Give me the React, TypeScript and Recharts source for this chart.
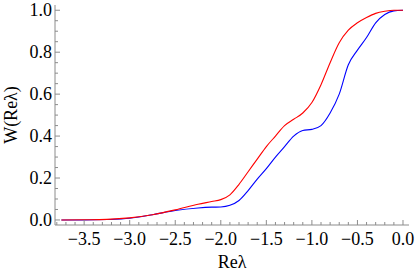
import { LineChart, Line, XAxis, YAxis } from 'recharts'

// Re(lambda) sample points and the two cumulative curves W(Re lambda)
const reLambda = [
  -3.75, -3.5, -3.25, -3.0, -2.75, -2.5, -2.25, -2.1, -2.0, -1.9, -1.8, -1.7, -1.6, -1.5,
  -1.4, -1.3, -1.2, -1.1, -1.0, -0.9, -0.8, -0.7, -0.6, -0.5, -0.4, -0.3, -0.2, -0.1, 0.0,
]
const redW = [
  0.0, 0.001, 0.003, 0.01, 0.025, 0.048, 0.075, 0.088, 0.097, 0.12, 0.17, 0.23, 0.29, 0.35,
  0.4, 0.45, 0.48, 0.51, 0.56, 0.645, 0.75, 0.845, 0.905, 0.94, 0.965, 0.985, 0.995, 1.0, 1.0,
]
const blueW = [
  0.0, 0.0, 0.002, 0.008, 0.025, 0.045, 0.057, 0.061, 0.062, 0.07, 0.093, 0.14, 0.195, 0.245,
  0.3, 0.35, 0.4, 0.427, 0.432, 0.45, 0.51, 0.6, 0.74, 0.81, 0.87, 0.94, 0.98, 0.997, 1.0,
]

const xTicks = [
  -3.8, -3.7, -3.6, -3.5, -3.4, -3.3, -3.2, -3.1, -3.0, -2.9, -2.8, -2.7, -2.6, -2.5, -2.4,
  -2.3, -2.2, -2.1, -2.0, -1.9, -1.8, -1.7, -1.6, -1.5, -1.4, -1.3, -1.2, -1.1, -1.0, -0.9,
  -0.8, -0.7, -0.6, -0.5, -0.4, -0.3, -0.2, -0.1, 0.0,
]
const yTicks = [
  0, 0.05, 0.1, 0.15, 0.2, 0.25, 0.3, 0.35, 0.4, 0.45, 0.5, 0.55, 0.6, 0.65, 0.7, 0.75, 0.8,
  0.85, 0.9, 0.95, 1.0,
]

const data = reLambda.map((x, i) => ({ x, red: redW[i], blue: blueW[i] }))

const FRAME = '#8c8c8c'
const FONT = '"Times New Roman", Times, "Liberation Serif", "DejaVu Serif", serif'
const FS = 18

const isMult = (v: number, step: number) => Math.abs(v / step - Math.round(v / step)) < 1e-6
const fmt = (v: number) => (Math.abs(v) < 1e-9 ? '0.0' : v.toFixed(1).replace('-', '\u2212'))

function BottomTick({ x, y, payload }: any) {
  const major = isMult(payload.value, 0.5)
  return (
    <g>
      <line x1={x} x2={x} y1={y} y2={y - (major ? 5 : 3)} stroke={FRAME} />
      {major && (
        <text x={x} y={y + 20} textAnchor="middle" fontFamily={FONT} fontSize={FS} fill="#000">
          {fmt(payload.value)}
        </text>
      )}
    </g>
  )
}

function TopTick({ x, y, payload }: any) {
  const major = isMult(payload.value, 0.5)
  return <line x1={x} x2={x} y1={y} y2={y + (major ? 5 : 3)} stroke={FRAME} />
}

function LeftTick({ x, y, payload }: any) {
  const major = isMult(payload.value, 0.2)
  return (
    <g>
      <line x1={x} x2={x + (major ? 5 : 3)} y1={y} y2={y} stroke={FRAME} />
      {major && (
        <text x={x - 3} y={y + 6} textAnchor="end" fontFamily={FONT} fontSize={FS} fill="#000">
          {payload.value.toFixed(1)}
        </text>
      )}
    </g>
  )
}

function RightTick({ x, y, payload }: any) {
  const major = isMult(payload.value, 0.2)
  return <line x1={x} x2={x - (major ? 5 : 3)} y1={y} y2={y} stroke={FRAME} />
}

export default function App() {
  return (
    <div style={{ position: 'absolute', left: 0, top: 0, fontFamily: FONT }}>
      <LineChart width={415} height={277} data={data} margin={{ top: 5, right: 6, bottom: 0, left: 0 }}>
        <XAxis
          xAxisId="b"
          dataKey="x"
          type="number"
          domain={[-3.82, 0.066]}
          allowDataOverflow
          ticks={xTicks}
          interval={0}
          height={52}
          tickSize={0}
          tickMargin={0}
          tickLine={false}
          axisLine={{ stroke: FRAME }}
          tick={<BottomTick />}
          label={{
            content: () => (
              <text x={232} y={268} textAnchor="middle" fontFamily={FONT} fontSize={FS} fill="#000">
                Re{'\u03bb'}
              </text>
            ),
          }}
        />
        <XAxis
          xAxisId="t"
          orientation="top"
          type="number"
          domain={[-3.82, 0.066]}
          allowDataOverflow
          ticks={xTicks}
          interval={0}
          height={0}
          tickSize={0}
          tickMargin={0}
          tickLine={false}
          axisLine={{ stroke: FRAME }}
          tick={<TopTick />}
        />
        <YAxis
          yAxisId="l"
          type="number"
          domain={[-0.024, 1.025]}
          allowDataOverflow
          ticks={yTicks}
          interval={0}
          width={55}
          tickSize={0}
          tickMargin={0}
          tickLine={false}
          axisLine={{ stroke: FRAME }}
          tick={<LeftTick />}
          label={{
            content: () => (
              <text
                x={17}
                y={115}
                transform="rotate(-90, 17, 115)"
                textAnchor="middle"
                fontFamily={FONT}
                fontSize={FS}
                fill="#000"
              >
                W(Re{'\u03bb'})
              </text>
            ),
          }}
        />
        <YAxis
          yAxisId="r"
          orientation="right"
          type="number"
          domain={[-0.024, 1.025]}
          allowDataOverflow
          ticks={yTicks}
          interval={0}
          width={0}
          tickSize={0}
          tickMargin={0}
          tickLine={false}
          axisLine={{ stroke: FRAME }}
          tick={<RightTick />}
        />
        <Line xAxisId="b" yAxisId="l" type="monotone" dataKey="blue" stroke="#0000ff" strokeWidth={1.1} dot={false} isAnimationActive={false} />
        <Line xAxisId="b" yAxisId="l" type="monotone" dataKey="red" stroke="#ff0000" strokeWidth={1.1} dot={false} isAnimationActive={false} />
      </LineChart>
    </div>
  )
}
